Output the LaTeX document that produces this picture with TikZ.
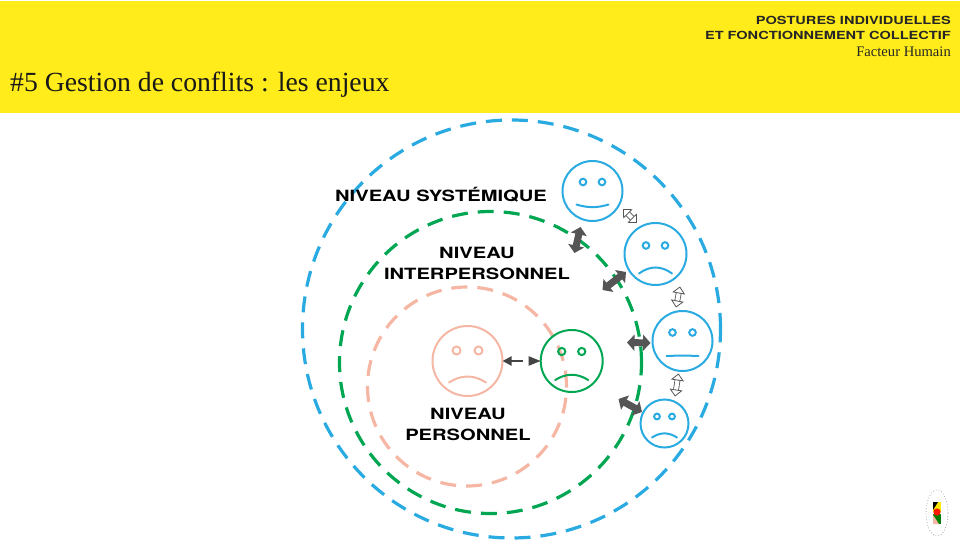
\documentclass[tikz,border=0pt]{standalone}
\usepackage{fontspec}
\setmainfont{Liberation Serif}
\newfontfamily\widefont[FakeStretch=1.3]{TeX Gyre Heros}
\usetikzlibrary{arrows.meta}
\definecolor{bandeau}{HTML}{FFEC1A}
\definecolor{bleu}{HTML}{29ABE2}
\definecolor{vert}{HTML}{00A651}
\definecolor{rose}{HTML}{F5B7A3}
\definecolor{gris}{HTML}{555555}
% one face: name, x, y, radius, colour, eye dx, eye dy, eye radius
\newcommand{\visage}[8]{%
  \node[face, draw=#5, minimum size=#4*2pt] (#1) at (#2,#3) {};
  \draw[trait, draw=#5] (#2-#6,#3+#7) circle (#8) (#2+#6,#3+#7) circle (#8);
}
\newcommand{\bouche}[6]{%
  \draw[trait, draw=#3] (#1-#4,#2+#5) .. controls (#1-#4/3,#2+#5+#6) and (#1+#4/3,#2+#5+#6) .. (#1+#4,#2+#5);
}
\begin{document}
\begin{tikzpicture}[x=1pt,y=-1pt,
    face/.style={circle, line width=2pt, inner sep=0pt, outer sep=0pt},
    trait/.style={line width=2pt, line cap=round},
    zone/.style={circle, dash pattern=on 16pt off 10pt, line width=3.2pt, inner sep=0pt},
    niveau/.style={align=center, font=\widefont\bfseries\fontsize{15.5}{21}\selectfont, text=black},
    plein/.style={draw=gris, line width=7pt, {Triangle[length=7.5pt,width=16pt]}-{Triangle[length=7.5pt,width=16pt]}},
    creux/.style={draw=gris, line width=.8pt, double=white, double distance=4.2pt,
      {Triangle[fill=white,length=7pt,width=13pt]}-{Triangle[fill=white,length=7pt,width=13pt]}},
    petit/.style={draw=gris!80!black, line width=2pt}]
  \useasboundingbox (0,0) rectangle (960,540);
  \fill[bandeau] (0,1) rectangle (960,113);
  \node[anchor=base west, inner sep=0pt, font=\fontsize{27.7}{30}\selectfont, text=black!90] (titre) at (10,92) {\#5 Gestion de conflits : les enjeux};
  \node[anchor=base east, inner sep=0pt, font=\widefont\bfseries\fontsize{11.2}{14}\selectfont, text=black!85] (entete1) at (951,25) {POSTURES INDIVIDUELLES};
  \node[anchor=base east, inner sep=0pt, font=\widefont\bfseries\fontsize{11.2}{14}\selectfont, text=black!85] (entete2) at (951,40) {ET FONCTIONNEMENT COLLECTIF};
  \node[anchor=base east, inner sep=0pt, font=\fontsize{14.6}{16}\selectfont, text=black!85] (entete3) at (951,57) {Facteur Humain};
  % les trois cercles
  \node[zone, draw=bleu, minimum size=418pt] (systeme) at (511.5,329) {};
  \node[zone, draw=vert, minimum size=302pt] (inter) at (490.5,362.5) {};
  \node[zone, draw=rose, minimum size=199pt] (perso) at (467,386.5) {};
  % les textes
  \node[niveau] (nsys) at (441,195) {NIVEAU SYSTÉMIQUE};
  \node[niveau] (nint) at (477,263.5) {NIVEAU\\INTERPERSONNEL};
  \node[niveau] (nper) at (468,424.5) {NIVEAU\\PERSONNEL};
  % les visages
  \visage{frose}{467.5}{361}{35}{rose}{11}{-10.5}{4}
  \bouche{467.5}{361}{rose}{18.5}{21.5}{-8}
  \visage{fvert}{571.7}{361}{31}{vert}{10}{-9.5}{3.6}
  \bouche{571.7}{361}{vert}{16.5}{19}{-7}
  \visage{fb1}{592.5}{191}{30}{bleu}{9.5}{-9}{3.3}
  \bouche{592.5}{191}{bleu}{16}{13.5}{3.5}
  \visage{fb2}{655.5}{254}{31}{bleu}{9.5}{-8.5}{3.3}
  \bouche{655.5}{254}{bleu}{16.5}{19.5}{-8}
  \visage{fb3}{682.5}{341}{30}{bleu}{10}{-8.5}{3.3}
  \bouche{682.5}{341}{bleu}{16}{15}{-.5}
  \visage{fb4}{664.5}{423.5}{24}{bleu}{7.5}{-7}{2.9}
  \bouche{664.5}{423.5}{bleu}{12.5}{14}{-5.5}
  % les fleches
  \coordinate (c1a) at (623,209);
  \coordinate (c1b) at (637,223);
  \coordinate (c2a) at (680,286.5);
  \coordinate (c2b) at (676,307.5);
  \coordinate (c3a) at (678.5,373.5);
  \coordinate (c3b) at (675,396.5);
  \coordinate (p1a) at (580.5,227);
  \coordinate (p1b) at (574.5,253);
  \coordinate (p2a) at (626,272);
  \coordinate (p2b) at (602.5,290);
  \coordinate (p3a) at (627,342.5);
  \coordinate (p3b) at (650.5,343);
  \coordinate (p4a) at (618.5,399);
  \coordinate (p4b) at (642,412);
  \coordinate (m1) at (523,361);
  \coordinate (m2) at (528.5,361);
  \draw[creux] (c1a) -- (c1b);
  \draw[creux] (c2a) -- (c2b);
  \draw[creux] (c3a) -- (c3b);
  \draw[plein] (p1a) -- (p1b);
  \draw[plein] (p2a) -- (p2b);
  \draw[plein] (p3a) -- (p3b);
  \draw[plein] (p4a) -- (p4b);
  \draw[petit, {Triangle[length=9pt,width=9pt]}-] (frose.east) -- (m1);
  \draw[petit, -{Triangle[length=12pt,width=9pt]}] (m2) -- (fvert.west);
  % le logo
  \node[draw=gris!50, dotted, line width=.8pt, circle, inner sep=0pt, minimum size=22pt, yscale=2.1] (logo) at (937,513) {};
  \fill[yellow!90!orange] (933,502) rectangle (941,512);
  \fill[black] (933,502) -- (938,502) -- (933,510) -- cycle;
  \fill[green!50!black] (933,514) rectangle (941,524);
  \fill[rose] (933,515) -- (933,524) -- (939,524) -- cycle;
  \fill[red!80!orange] (937,512) circle (3.6);
\end{tikzpicture}
\end{document}
